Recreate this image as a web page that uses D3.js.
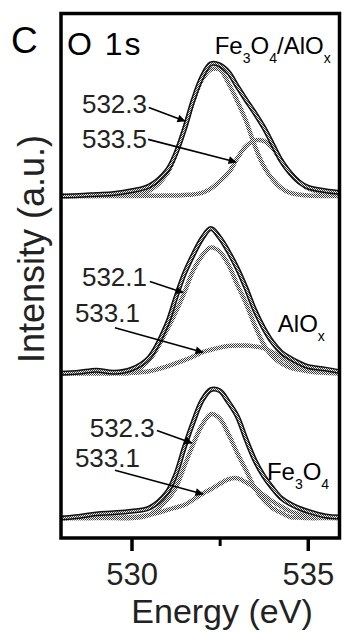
<!DOCTYPE html>
<html><head><meta charset="utf-8">
<script src="https://cdn.jsdelivr.net/npm/d3@7"></script>
<style>
html,body{margin:0;padding:0;background:#fff;}
svg{display:block;font-family:"Liberation Sans",Arial,sans-serif;}
</style></head>
<body>
<svg id="chart" width="342" height="632"></svg>
<script>
// ---- data ----
const energy = [528, 528.5, 529, 529.5, 530, 530.5, 531, 531.25, 531.5, 531.75, 532, 532.25, 532.5, 532.75, 533, 533.25, 533.5, 533.75, 534, 534.25, 534.5, 534.75, 535, 535.5, 536];

// Fe3O4/AlOx (top)
const topTotal = [0, 0.01, 0.03, 0.05, 0.1, 0.19, 0.48, 0.8, 1.27, 1.83, 2.27, 2.52, 2.5, 2.36, 2.09, 1.83, 1.58, 1.31, 0.99, 0.67, 0.44, 0.27, 0.17, 0.1, 0.06];
const topComp1 = [0, 0, 0, 0.01, 0.03, 0.1, 0.42, 0.8, 1.29, 1.81, 2.22, 2.41, 2.41, 2.15, 1.81, 1.43, 0.95, 0.57, 0.32, 0.15, 0.06, 0.03, 0.01, 0, 0];
const topComp2 = [0, 0, 0, 0, 0, 0.005, 0.01, 0.01, 0.02, 0.03, 0.06, 0.14, 0.28, 0.44, 0.72, 0.95, 1.06, 1.05, 0.91, 0.67, 0.44, 0.27, 0.15, 0.06, 0.02];

// AlOx (middle)
const midTotal = [0, 0.02, 0.06, 0.02, 0.08, 0.3, 0.93, 1.43, 1.9, 2.26, 2.57, 2.76, 2.59, 2.32, 2.0, 1.62, 1.2, 0.86, 0.59, 0.4, 0.29, 0.2, 0.13, 0.08, 0.02];
const midComp1 = [0, 0, 0, 0, 0.02, 0.25, 0.82, 1.16, 1.54, 1.96, 2.24, 2.4, 2.32, 2.07, 1.69, 1.33, 0.91, 0.55, 0.32, 0.19, 0.11, 0.07, 0.04, 0.01, 0];
const midComp2 = [0, 0, 0, 0.005, 0.01, 0.04, 0.13, 0.19, 0.25, 0.32, 0.4, 0.45, 0.49, 0.52, 0.53, 0.53, 0.51, 0.48, 0.4, 0.3, 0.2, 0.12, 0.08, 0.02, 0];

// Fe3O4 (bottom)
const botTotal = [0, 0.03, 0.08, 0.1, 0.13, 0.19, 0.48, 0.82, 1.35, 1.83, 2.24, 2.45, 2.43, 2.21, 1.94, 1.5, 1.1, 0.8, 0.57, 0.38, 0.27, 0.19, 0.13, 0.04, 0.02];
const botComp1 = [0, 0, 0, 0, 0, 0.06, 0.34, 0.57, 0.99, 1.41, 1.77, 1.98, 1.9, 1.6, 1.24, 0.91, 0.57, 0.34, 0.19, 0.1, 0.02, 0.01, 0, 0, 0];
const botComp2 = [0, 0, 0.005, 0.01, 0.02, 0.06, 0.15, 0.2, 0.25, 0.35, 0.46, 0.55, 0.65, 0.74, 0.76, 0.68, 0.57, 0.44, 0.32, 0.22, 0.13, 0.08, 0.04, 0.01, 0];

const panelNames = ["Fe3O4/AlOx", "AlOx", "Fe3O4"];
const panelOffsets = [6.52, 3.14, 0.38];
const peakLabels = [["532.3", "533.5"], ["532.1", "533.1"], ["532.3", "533.1"]];

const xTicks = [530, 535];
const xMinorTicks = [532.5];
const xLabel = "Energy (eV)";
const yLabel = "Intensity (a.u.)";
const panelLetter = "C";
const coreLevel = "O 1s";

// ---- layout ----
const L = 61, R = 339.5, T = 13.5, B = 538;
const svg = d3.select("#chart");

const x = d3.scaleLinear().domain([528, 535.9]).range([L, R]);
const y = d3.scaleLinear().domain([0, 10]).range([B, T]);

const defs = svg.append("defs");
defs.append("clipPath").attr("id", "clip")
  .append("rect").attr("x", L).attr("y", T).attr("width", R - L).attr("height", B - T);
const pat = defs.append("pattern").attr("id", "dots").attr("patternUnits", "userSpaceOnUse")
  .attr("width", 2).attr("height", 2);
pat.append("rect").attr("width", 2).attr("height", 2).attr("fill", "#f2f2f2");
pat.append("rect").attr("x", 0).attr("y", 0).attr("width", 1).attr("height", 1).attr("fill", "#3a3a3a");
pat.append("rect").attr("x", 1).attr("y", 1).attr("width", 1).attr("height", 1).attr("fill", "#3a3a3a");
const mk = defs.append("marker").attr("id", "arrow")
  .attr("viewBox", "0 0 10 10").attr("refX", 9).attr("refY", 5)
  .attr("markerWidth", 12).attr("markerHeight", 8).attr("markerUnits", "userSpaceOnUse")
  .attr("orient", "auto");
mk.append("path").attr("d", "M0,0 L10,5 L0,10 Z").attr("fill", "#000");

const line = (vals, off) => d3.line()
  .x((d, i) => x(energy[i]))
  .y(d => y(d + off))
  .curve(d3.curveCatmullRom.alpha(0.5))(vals);

const panels = [
  {total: topTotal, c1: topComp1, c2: topComp2},
  {total: midTotal, c1: midComp1, c2: midComp2},
  {total: botTotal, c1: botComp1, c2: botComp2}
];

const plot = svg.append("g").attr("clip-path", "url(#clip)");
panels.forEach((p, k) => {
  const off = panelOffsets[k];
  [p.c2, p.c1].forEach(c => {
    plot.append("path").attr("d", line(c, off)).attr("fill", "none")
      .attr("stroke", "url(#dots)").attr("stroke-width", 4.5).attr("stroke-linejoin", "round");
  });
  plot.append("path").attr("d", line(p.total, off)).attr("fill", "none")
    .attr("stroke", "#111").attr("stroke-width", 5).attr("stroke-linejoin", "round");
  plot.append("path").attr("d", line(p.total, off)).attr("fill", "none")
    .attr("stroke", "url(#dots)").attr("stroke-width", 2).attr("stroke-linejoin", "round");
});

// peak annotations (in data units)
const annotations = [
  {t: peakLabels[0][0], tx: 530.44, ty: 8.10, x1: 530.49, y1: 8.21, x2: 531.51, y2: 7.95},
  {t: peakLabels[0][1], tx: 530.44, ty: 7.43, x1: 530.47, y1: 7.60, x2: 532.96, y2: 7.17},
  {t: peakLabels[1][0], tx: 530.44, ty: 4.81, x1: 530.52, y1: 4.89, x2: 531.46, y2: 4.68},
  {t: peakLabels[1][1], tx: 530.24, ty: 4.11, x1: 529.53, y1: 4.01, x2: 532.02, y2: 3.54},
  {t: peakLabels[2][0], tx: 530.66, ty: 1.92, x1: 530.72, y1: 2.05, x2: 531.71, y2: 1.81},
  {t: peakLabels[2][1], tx: 530.24, ty: 1.35, x1: 529.53, y1: 1.29, x2: 532.02, y2: 0.84}
];
annotations.forEach(a => {
  svg.append("text").attr("x", x(a.tx)).attr("y", y(a.ty)).attr("text-anchor", "end")
    .attr("font-size", 26).attr("fill", "#222").text(a.t);
  svg.append("line").attr("x1", x(a.x1)).attr("y1", y(a.y1)).attr("x2", x(a.x2)).attr("y2", y(a.y2))
    .attr("stroke", "#000").attr("stroke-width", 1.6).attr("marker-end", "url(#arrow)");
});

// sample labels with subscripts (digits and trailing x are subscripts)
function chem(g, str, px, py) {
  const t = g.append("text").attr("x", x(px)).attr("y", y(py)).attr("font-size", 24).attr("fill", "#000");
  const tokens = [];
  str.replace(/(\d)|(x$)|([^\dx]+|x(?!$))/g, (m, d, xs) => {
    tokens.push({s: m, sub: !!(d || xs)});
    return m;
  });
  let down = false;
  tokens.forEach(tok => {
    const ts = t.append("tspan").text(tok.s);
    if (tok.sub && !down) { ts.attr("dy", 9).attr("font-size", 14); down = true; }
    else if (tok.sub) { ts.attr("font-size", 14); }
    else if (down) { ts.attr("dy", -9); down = false; }
  });
}
chem(svg, panelNames[0], 532.36, 9.22);
chem(svg, panelNames[1], 534.15, 3.92);
chem(svg, panelNames[2], 533.84, 1.10);

// frame
svg.append("rect").attr("x", L).attr("y", T).attr("width", R - L).attr("height", B - T)
  .attr("fill", "none").attr("stroke", "#000").attr("stroke-width", 3.5);

// axis
const ax = svg.append("g").attr("transform", `translate(0,${B})`)
  .call(d3.axisBottom(x).tickValues(xTicks).tickSize(13).tickFormat(d3.format("d")));
ax.select(".domain").remove();
ax.selectAll(".tick line").attr("stroke", "#000").attr("stroke-width", 3.5);
ax.selectAll(".tick text").attr("font-size", 31).attr("fill", "#222")
  .attr("font-family", "Liberation Sans, Arial, sans-serif").attr("dy", 0).attr("y", 47);
const axm = svg.append("g").attr("transform", `translate(0,${B})`)
  .call(d3.axisBottom(x).tickValues(xMinorTicks).tickSize(8).tickFormat(""));
axm.select(".domain").remove();
axm.selectAll(".tick line").attr("stroke", "#000").attr("stroke-width", 3);

svg.append("text").attr("x", 222).attr("y", 623).attr("text-anchor", "middle")
  .attr("font-size", 34).attr("fill", "#222").text(xLabel);
svg.append("text").attr("transform", "translate(44,249) rotate(-90)").attr("text-anchor", "middle")
  .attr("font-size", 36).attr("fill", "#222").text(yLabel);
svg.append("text").attr("x", 11).attr("y", 53).attr("font-size", 37).attr("fill", "#000").text(panelLetter);
svg.append("text").attr("x", 67).attr("y", 55).attr("font-size", 32).attr("letter-spacing", 2)
  .attr("fill", "#000").text(coreLevel);
</script>
</body></html>
